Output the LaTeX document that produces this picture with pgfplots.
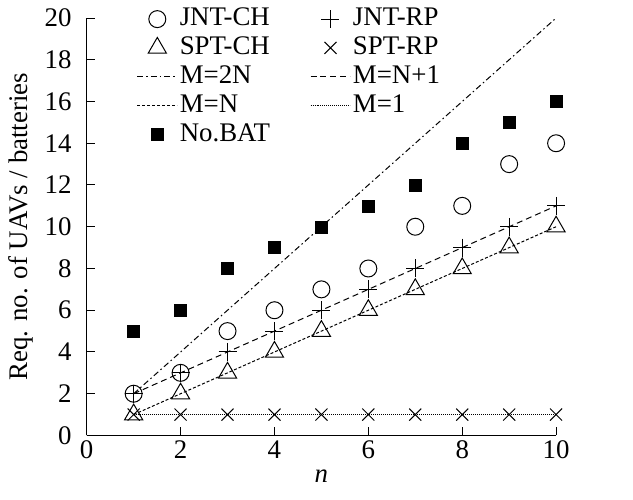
\documentclass[border=0pt]{standalone}
\usepackage{fontspec}
\setmainfont{Liberation Serif}
\usepackage{pgfplots}
\pgfplotsset{compat=1.18}
\begin{document}
\fontsize{27}{31}\selectfont
\begin{tikzpicture}
\begin{axis}[
  scale only axis, width=470bp, height=418bp,
  xmin=0, xmax=10, ymin=0, ymax=20,
  axis lines*=left,
  axis line style={line width=1bp},
  xtick={0,2,...,10}, ytick={0,2,...,20},
  tick align=inside, major tick length=8bp,
  tick style={line width=1bp, black},
  /pgf/number format/assume math mode=true,
  ticklabel style={font=\fontsize{27}{31}\selectfont},
  yticklabel style={xshift=-6bp},
  xticklabel style={yshift=4bp},
  label style={font=\fontsize{27}{31}\selectfont},
  xlabel={\textit{n}}, ylabel={Req. no. of UAVs / batteries},
  xlabel style={yshift=7bp},
  ylabel style={yshift=-7bp},
  legend style={draw=none, fill=none, at={(0.1,1)}, anchor=north west,
    yshift=14bp,
    font=\fontsize{27}{29}\selectfont, legend columns=2,
    row sep=3bp,
    /tikz/every even column/.append style={column sep=38bp}},
  legend cell align=left,
  legend image code/.code={\draw[mark repeat=2,mark phase=2,#1] plot coordinates {(0bp,0bp)(20bp,0bp)(40bp,0bp)};},
]
\addplot[only marks, mark=o, mark size=8.5bp, line width=1bp] coordinates {
(1,2)(2,3)(3,5)(4,6)(5,7)(6,8)(7,10)(8,11)(9,13)(10,14)};
\addlegendentry{JNT-CH}
\addplot[only marks, mark=+, mark size=9bp, line width=1bp] coordinates {
(1,2)(2,3)(3,4)(4,5)(5,6)(6,7)(7,8)(8,9)(9,10)(10,11)};
\addlegendentry{JNT-RP}
\addplot[only marks, mark=triangle, mark size=10.5bp, line width=1bp] coordinates {
(1,1)(2,2)(3,3)(4,4)(5,5)(6,6)(7,7)(8,8)(9,9)(10,10)};
\addlegendentry{SPT-CH}
\addplot[only marks, mark=x, mark size=8.5bp, line width=1bp] coordinates {
(1,1)(2,1)(3,1)(4,1)(5,1)(6,1)(7,1)(8,1)(9,1)(10,1)};
\addlegendentry{SPT-RP}
\addplot[line width=1bp, dash pattern=on 6bp off 3bp on 1.5bp off 3bp] coordinates {(1,2)(10,20)};
\addlegendentry{M=2N}
\addplot[line width=1bp, dash pattern=on 6bp off 4bp] coordinates {(1,2)(10,11)};
\addlegendentry{M=N+1}
\addplot[line width=1bp, dash pattern=on 3bp off 2bp] coordinates {(1,1)(10,10)};
\addlegendentry{M=N}
\addplot[line width=0.8bp, dash pattern=on 1bp off 1bp] coordinates {(1,1)(10,1)};
\addlegendentry{M=1}
\addplot[only marks, mark=square*, mark size=6bp, black] coordinates {
(1,5)(2,6)(3,8)(4,9)(5,10)(6,11)(7,12)(8,14)(9,15)(10,16)};
\addlegendentry{No.BAT}
\end{axis}
\path ([xshift=-86bp,yshift=-64bp]current axis.south west);
\path ([xshift=77bp,yshift=14bp]current axis.north east);
\end{tikzpicture}
\end{document}
